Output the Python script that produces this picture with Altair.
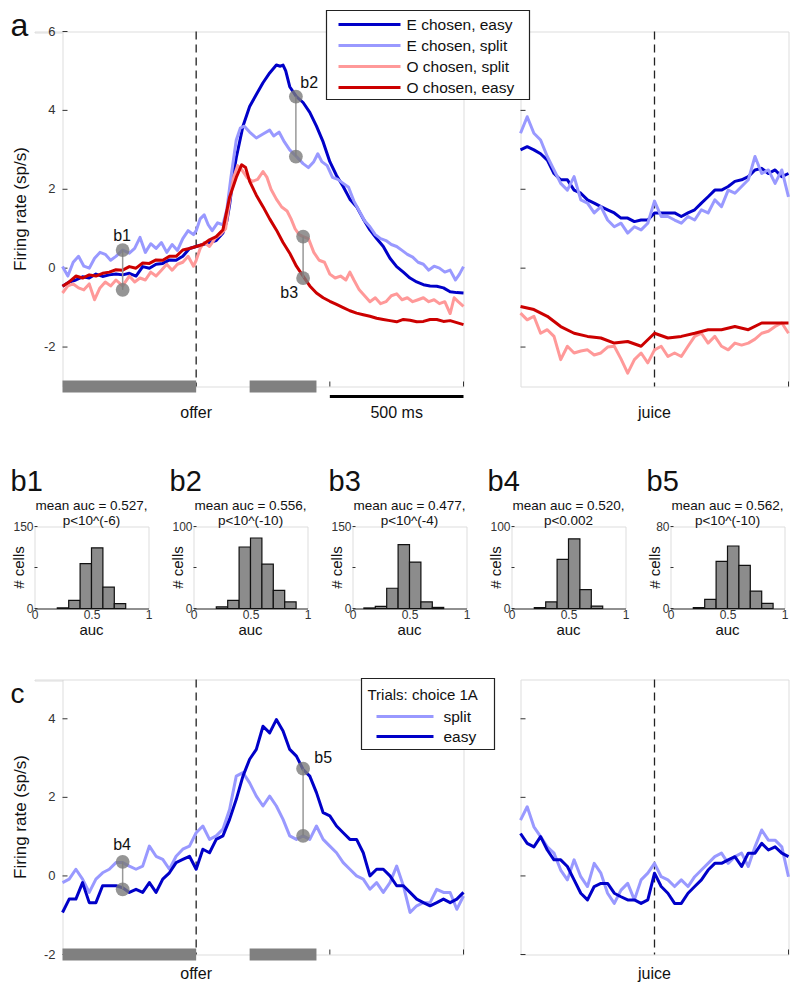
import altair as alt
import pandas as pd

FONT = "Liberation Sans"
AX = "#333333"
TXT = "#111111"
C_E_EASY = "#0000c8"
C_E_SPLIT = "#9999ff"
C_O_SPLIT = "#ff9999"
C_O_EASY = "#cc0000"
GRAY = "#808080"

# ---------------- Panel a, offer-aligned ----------------
A_L_E_EASY_T = [-500,-475,-450,-425,-400,-375,-350,-325,-300,-275,-250,-225,-200,-175,-150,-125,-100,-75,-50,-25,0,25,50,75,100,115,125,140,150,175,200,225,250,275,300,315,325,335,350,375,400,425,450,475,500,525,550,575,600,625,650,675,700,725,750,775,800,825,850,875,900,925,950,975,1000]
A_L_E_EASY_V = [-0.46,-0.35,-0.3,-0.22,-0.25,-0.15,-0.21,-0.17,-0.15,-0.17,-0.13,-0.2,0.04,0.0,0.1,0.12,0.21,0.2,0.3,0.5,0.55,0.6,0.65,0.7,0.89,1.2,1.6,2.4,2.8,3.6,4.1,4.4,4.7,4.95,5.15,5.12,5.15,5.0,4.6,4.35,4.2,3.95,3.6,3.2,2.7,2.35,2.07,1.75,1.56,1.25,0.97,0.75,0.55,0.25,0.04,-0.1,-0.25,-0.35,-0.42,-0.45,-0.46,-0.5,-0.6,-0.62,-0.63]

A_L_E_SPLIT_T = [-500,-480,-460,-440,-420,-400,-380,-360,-340,-320,-300,-275,-250,-230,-210,-190,-170,-150,-130,-110,-90,-70,-50,-30,-10,0,15,30,45,60,80,100,115,130,150,165,180,200,225,250,275,290,310,330,350,375,400,420,440,455,470,490,510,530,550,570,590,610,630,650,670,690,710,730,750,770,790,810,830,850,870,890,910,930,950,970,985,1000]
A_L_E_SPLIT_V = [0.04,-0.2,0.15,0.3,0.05,0.0,0.25,0.4,0.35,0.2,0.3,0.46,0.38,0.5,0.78,0.4,0.62,0.5,0.65,0.4,0.6,0.45,0.75,0.95,0.85,0.95,1.25,1.35,1.1,0.95,1.15,1.1,1.5,2.3,3.25,3.55,3.6,3.45,3.3,3.4,3.5,3.35,3.45,3.2,3.0,2.83,2.65,2.55,2.7,2.9,2.7,2.6,2.3,2.25,2.15,2.05,1.7,1.45,1.2,1.05,0.85,0.75,0.7,0.6,0.55,0.45,0.35,0.28,0.15,0.1,-0.05,0.05,0.0,-0.1,-0.05,-0.3,-0.15,0.04]

A_L_O_SPLIT_T = [-500,-480,-460,-440,-420,-400,-380,-360,-340,-320,-300,-275,-250,-230,-210,-190,-170,-150,-130,-110,-90,-70,-50,-30,-10,0,15,30,50,70,90,110,125,140,155,170,190,210,230,250,265,280,300,320,340,355,370,385,400,420,440,460,480,500,520,540,560,575,590,610,630,650,670,690,710,730,750,770,790,810,830,850,870,890,910,930,950,965,980,1000]
A_L_O_SPLIT_V = [-0.63,-0.45,-0.4,-0.5,-0.55,-0.4,-0.8,-0.5,-0.35,-0.45,-0.3,-0.45,-0.2,-0.35,-0.25,-0.3,-0.1,-0.2,-0.05,0.1,-0.05,0.1,0.15,0.3,0.05,0.2,0.5,0.65,0.55,0.75,0.85,1.0,1.7,2.3,2.6,2.5,2.3,2.2,2.25,2.45,2.3,2.0,1.75,1.55,1.45,1.25,1.0,0.85,0.8,0.75,0.4,0.2,0.15,-0.15,-0.25,-0.2,-0.3,-0.1,-0.3,-0.55,-0.7,-0.85,-0.75,-0.9,-0.85,-0.7,-0.65,-0.8,-0.75,-0.85,-0.8,-0.75,-0.85,-0.8,-0.9,-0.85,-1.15,-0.75,-0.85,-0.97]

A_L_O_EASY_T = [-500,-475,-450,-425,-400,-375,-350,-325,-300,-275,-250,-225,-200,-175,-150,-125,-100,-75,-50,-25,0,25,50,75,100,125,150,170,185,200,225,250,275,300,325,350,375,400,425,450,475,500,525,550,575,600,625,650,675,700,725,750,775,800,825,850,875,900,925,950,975,1000]
A_L_O_EASY_V = [-0.46,-0.35,-0.2,-0.25,-0.17,-0.2,-0.13,-0.1,-0.04,-0.05,0.04,0.0,0.13,0.12,0.21,0.2,0.3,0.3,0.46,0.5,0.55,0.6,0.72,0.8,0.97,1.8,2.3,2.62,2.55,2.2,1.85,1.56,1.25,0.97,0.65,0.38,0.05,-0.2,-0.45,-0.63,-0.75,-0.84,-0.92,-1.0,-1.08,-1.14,-1.18,-1.22,-1.27,-1.3,-1.33,-1.36,-1.3,-1.32,-1.36,-1.35,-1.3,-1.3,-1.35,-1.33,-1.38,-1.43]

# ---------------- Panel a, juice-aligned ----------------
R_T25 = [-500,-475,-450,-425,-400,-375,-350,-325,-300,-275,-250,-225,-200,-175,-150,-125,-100,-75,-50,-25,0,25,50,75,100,125,150,175,200,225,250,275,300,325,350,375,400,425,450,475,500]
R_T50 = [-500,-450,-400,-350,-300,-250,-200,-150,-100,-50,0,50,100,150,200,250,300,350,400,450,500]
A_R_E_EASY_V = [3.0,3.08,3.0,2.9,2.74,2.4,2.24,2.24,1.98,1.9,1.73,1.65,1.56,1.48,1.4,1.27,1.27,1.18,1.22,1.22,1.4,1.4,1.4,1.4,1.31,1.4,1.48,1.65,1.81,1.98,1.98,2.07,2.2,2.24,2.32,2.49,2.53,2.4,2.49,2.32,2.4]
A_R_E_SPLIT_V = [3.42,3.84,3.42,3.25,2.83,2.49,2.15,1.98,2.32,1.73,1.65,1.4,1.56,1.22,1.05,1.14,0.89,1.05,0.97,1.14,1.7,1.31,1.31,1.22,1.14,1.31,1.22,1.48,1.4,1.73,1.56,1.98,1.9,2.07,2.24,2.83,2.4,2.49,2.15,2.49,1.81]
A_R_O_SPLIT_V = [-1.14,-1.31,-1.22,-1.65,-1.56,-1.73,-2.32,-1.98,-2.15,-2.1,-2.07,-2.2,-2.15,-2.0,-1.98,-2.3,-2.66,-2.32,-2.15,-2.4,-2.07,-1.98,-2.24,-2.15,-2.24,-1.98,-1.73,-1.65,-1.9,-1.73,-1.98,-2.07,-1.9,-1.95,-1.9,-1.8,-1.65,-1.6,-1.48,-1.39,-1.65]
A_R_O_EASY_V = [-0.97,-1.05,-1.22,-1.48,-1.65,-1.73,-1.77,-1.9,-1.86,-1.98,-1.65,-1.77,-1.73,-1.65,-1.56,-1.56,-1.48,-1.56,-1.39,-1.39,-1.39]

# ---------------- Panel c ----------------
C_L_T = list(range(-500, 1001, 25))
C_L_SPLIT_V = [-0.17,-0.08,0.17,-0.08,-0.42,-0.08,0.08,0.17,0.34,0.34,0.25,0.17,0.25,0.76,0.5,0.42,0.17,0.5,0.68,0.76,1.1,1.27,0.93,1.02,1.19,1.69,2.54,2.63,2.37,2.03,1.78,2.03,1.78,1.44,1.02,0.93,1.02,0.93,1.27,0.93,0.76,0.59,0.34,0.17,0.0,-0.08,-0.34,-0.17,-0.42,-0.17,0.25,-0.25,-0.93,-0.76,-0.68,-0.68,-0.34,-0.42,-0.42,-0.85,-0.51]
C_L_EASY_V = [-0.93,-0.59,-0.59,-0.17,-0.68,-0.68,-0.25,-0.25,-0.25,-0.3,-0.42,-0.34,-0.42,-0.17,-0.42,-0.08,0.08,0.34,0.42,0.5,0.17,0.68,0.59,0.93,1.02,1.44,1.95,2.54,2.97,3.22,3.81,3.64,3.98,3.69,3.22,3.05,2.71,2.54,2.12,1.61,1.53,1.27,1.1,0.93,0.93,0.59,0.0,0.17,0.17,0.0,-0.25,-0.25,-0.42,-0.59,-0.68,-0.76,-0.68,-0.59,-0.68,-0.59,-0.42]
C_R_SPLIT_V = [1.42,1.76,1.25,1.0,0.74,0.58,0.15,-0.1,0.41,-0.02,-0.27,0.32,0.07,-0.44,-0.7,-0.36,-0.19,-0.61,-0.1,0.07,0.32,-0.02,-0.1,-0.27,-0.1,-0.27,-0.02,0.15,0.32,0.49,0.58,0.32,0.49,0.58,0.24,0.74,1.17,0.91,0.91,0.74,-0.02]
C_R_EASY_V = [1.08,0.83,0.74,1.0,0.66,0.41,0.41,0.24,-0.1,-0.44,-0.61,-0.27,-0.19,-0.19,-0.44,-0.53,-0.61,-0.61,-0.7,-0.61,0.07,-0.27,-0.44,-0.7,-0.7,-0.44,-0.27,-0.1,0.15,0.32,0.32,0.41,0.49,0.24,0.58,0.58,0.83,0.66,0.74,0.58,0.49]

# epochs (gray bars) and markers
EPOCH_START = [-500, 200]
EPOCH_END = [0, 450]
SCALEBAR = [500, 1000]

A_MARK_T = [-275, 373, 400]
A_MARK_HI = [0.46, 4.35, 0.8]
A_MARK_LO = [-0.55, 2.83, -0.25]
A_MARK_LAB = ["b1", "b2", "b3"]
A_MARK_LAB_T = [-277, 423, 348]
A_MARK_LAB_V = [0.81, 4.7, -0.63]
C_MARK_T = [-275, 400]
C_MARK_HI = [0.36, 2.73]
C_MARK_LO = [-0.34, 1.02]
C_MARK_LAB = ["b4", "b5"]
C_MARK_LAB_T = [-277, 475]
C_MARK_LAB_V = [0.79, 2.99]

A_LEGEND = ["E chosen, easy", "E chosen, split", "O chosen, split", "O chosen, easy"]
A_COLORS = [C_E_EASY, C_E_SPLIT, C_O_SPLIT, C_O_EASY]
C_LEGEND_TITLE = "Trials: choice 1A"
C_LEGEND = ["split", "easy"]
C_COLORS = [C_E_SPLIT, C_E_EASY]

# ---------------- Histograms (panel b) ----------------
HIST_NAMES = ["b1", "b2", "b3", "b4", "b5"]
HIST_TITLE1 = ["mean auc = 0.527,", "mean auc = 0.556,", "mean auc = 0.477,", "mean auc = 0.520,", "mean auc = 0.562,"]
HIST_TITLE2 = ["p<10^(-6)", "p<10^(-10)", "p<10^(-4)", "p<0.002", "p<10^(-10)"]
HIST_YMAX = [150, 100, 150, 100, 80]
HIST_START = [0.2, 0.2, 0.1, 0.2, 0.2]
HIST_COUNTS = [
    [1, 15, 82, 111, 39, 9],
    [2, 10, 75, 86, 54, 22, 8],
    [1, 4, 37, 117, 85, 12, 2],
    [1, 8, 60, 85, 23, 3],
    [1, 9, 46, 61, 42, 17, 5],
]
BIN_W = 0.1

W_L, W_R = 401, 268
H_A, H_B, H_C = 355, 82, 275
W_B = 114


def one():
    return pd.DataFrame({"k": [0]})


def sc(dom):
    return alt.Scale(domain=dom, nice=False, zero=False)


def txt(s, x, y, size, align="left", baseline="middle", angle=0, color=TXT):
    kw = dict(text=s, fontSize=size, font=FONT, align=align, baseline=baseline, color=color)
    if angle:
        kw["angle"] = angle
    return alt.Chart(one()).mark_text(**kw).encode(x=alt.value(x), y=alt.value(y))


def anchor(x, y1, y2):
    # invisible rule that fixes the extent of a row for the layout
    return alt.Chart(one()).mark_rule(opacity=0, strokeWidth=1, color="white").encode(
        x=alt.value(x), y=alt.value(y1), y2=alt.value(y2))


def blank(w, h=1):
    return alt.Chart(one()).mark_point(opacity=0, size=1).encode(
        x=alt.value(0), y=alt.value(0)).properties(width=w, height=h)


def ylabel_layer(vals, ys, dx, size):
    df = pd.DataFrame({"v": vals, "lab": [("%g" % v) for v in vals]})
    return alt.Chart(df).mark_text(fontSize=size, font=FONT, color=AX, align="right", baseline="middle").encode(
        y=alt.Y("v:Q", scale=ys, axis=None), x=alt.value(dx), text="lab:N")


def frame(xs, ys, yticks, xticks, h, ylabels):
    ylay = alt.Chart(pd.DataFrame({"v": yticks})).mark_rule(color=AX, strokeWidth=1).encode(
        y=alt.Y("v:Q", scale=ys, axis=alt.Axis(
            values=yticks, ticks=False, labels=False, domain=True, domainColor=AX,
            domainWidth=1.2, title=None, grid=False)),
        x=alt.value(0), x2=alt.value(5))
    xlay = alt.Chart(pd.DataFrame({"t": xticks})).mark_rule(color=AX, strokeWidth=1).encode(
        x=alt.X("t:Q", scale=xs, axis=alt.Axis(
            ticks=False, labels=False, domain=True, domainColor=AX, domainWidth=1.2,
            title=None, grid=False)),
        y=alt.value(h), y2=alt.value(h - 5))
    out = [ylay, xlay]
    if ylabels:
        out.append(ylabel_layer(yticks, ys, -7, 13))
    return out


def line(ts, vs, color, xs, ys):
    return alt.Chart(pd.DataFrame({"t": ts, "v": vs})).mark_line(
        color=color, strokeWidth=3, strokeJoin="round").encode(
        x=alt.X("t:Q", scale=xs, axis=None), y=alt.Y("v:Q", scale=ys, axis=None))


def dashed(xs, h):
    return alt.Chart(pd.DataFrame({"t": [0]})).mark_rule(
        color="#222222", strokeWidth=1.3, strokeDash=[8, 5]).encode(
        x=alt.X("t:Q", scale=xs, axis=None), y=alt.value(0), y2=alt.value(h))


def epochs(xs, h):
    return alt.Chart(pd.DataFrame({"s": EPOCH_START, "e": EPOCH_END})).mark_rect(color=GRAY).encode(
        x=alt.X("s:Q", scale=xs, axis=None), x2="e:Q", y=alt.value(h - 6), y2=alt.value(h + 6))


def markers(ts, hi, lo, labs, lt, lv, xs, ys):
    df = pd.DataFrame({"t": ts, "hi": hi, "lo": lo})
    seg = alt.Chart(df).mark_rule(color="#999999", strokeWidth=1.5).encode(
        x=alt.X("t:Q", scale=xs, axis=None), y=alt.Y("hi:Q", scale=ys, axis=None), y2="lo:Q")
    long = pd.DataFrame({"t": ts + ts, "v": hi + lo})
    dots = alt.Chart(long).mark_circle(size=190, color="#7a7a7a", opacity=0.8).encode(
        x=alt.X("t:Q", scale=xs, axis=None), y=alt.Y("v:Q", scale=ys, axis=None))
    labdf = pd.DataFrame({"t": lt, "v": lv, "lab": labs})
    lab = alt.Chart(labdf).mark_text(fontSize=16, font=FONT, color=TXT, align="center", baseline="middle").encode(
        x=alt.X("t:Q", scale=xs, axis=None), y=alt.Y("v:Q", scale=ys, axis=None), text="lab:N")
    return [seg, dots, lab]


def event_label(xs, label, h, dy):
    return alt.Chart(pd.DataFrame({"t": [0], "lab": [label]})).mark_text(
        fontSize=16, font=FONT, color=TXT, align="center", baseline="middle").encode(
        x=alt.X("t:Q", scale=xs, axis=None), y=alt.value(h + dy), text="lab:N")


# ---------------- Panel a left ----------------
xsL = sc([-500, 1000])
ysA = sc([-3, 6])
a_left_layers = frame(xsL, ysA, [-2, 0, 2, 4, 6], [500, 1000], H_A, True)
a_left_layers += [dashed(xsL, H_A), epochs(xsL, H_A)]
a_left_layers += [
    line(A_L_E_EASY_T, A_L_E_EASY_V, C_E_EASY, xsL, ysA),
    line(A_L_E_SPLIT_T, A_L_E_SPLIT_V, C_E_SPLIT, xsL, ysA),
    line(A_L_O_SPLIT_T, A_L_O_SPLIT_V, C_O_SPLIT, xsL, ysA),
    line(A_L_O_EASY_T, A_L_O_EASY_V, C_O_EASY, xsL, ysA),
]
a_left_layers += markers(A_MARK_T, A_MARK_HI, A_MARK_LO, A_MARK_LAB, A_MARK_LAB_T, A_MARK_LAB_V, xsL, ysA)
a_left_layers += [
    alt.Chart(pd.DataFrame({"s": [SCALEBAR[0]], "e": [SCALEBAR[1]]})).mark_rule(color="#000000", strokeWidth=3).encode(
        x=alt.X("s:Q", scale=xsL, axis=None), x2="e:Q", y=alt.value(H_A + 10)),
    alt.Chart(pd.DataFrame({"t": [(SCALEBAR[0] + SCALEBAR[1]) / 2], "lab": ["500 ms"]})).mark_text(
        fontSize=16, font=FONT, color=TXT, align="center", baseline="middle").encode(
        x=alt.X("t:Q", scale=xsL, axis=None), y=alt.value(H_A + 26), text="lab:N"),
    event_label(xsL, "offer", H_A, 26),
    txt("a", -52, 4, 32, baseline="alphabetic"),
    txt("Firing rate (sp/s)", -42, H_A / 2, 17, align="center", angle=270),
    anchor(-52, -22, H_A + 45),
]
a_left = alt.layer(*a_left_layers).properties(width=W_L, height=H_A)

# ---------------- Panel a right ----------------
xsR = sc([-500, 500])
a_right_layers = frame(xsR, ysA, [-2, 0, 2, 4, 6], [500], H_A, False)
a_right_layers += [dashed(xsR, H_A)]
a_right_layers += [
    line(R_T25, A_R_E_EASY_V, C_E_EASY, xsR, ysA),
    line(R_T25, A_R_E_SPLIT_V, C_E_SPLIT, xsR, ysA),
    line(R_T25, A_R_O_SPLIT_V, C_O_SPLIT, xsR, ysA),
    line(R_T50, A_R_O_EASY_V, C_O_EASY, xsR, ysA),
    event_label(xsR, "juice", H_A, 26),
]
a_right_layers.append(alt.Chart(one()).mark_rect(fill="white", stroke="#222222", strokeWidth=1.2).encode(
    x=alt.value(-194), x2=alt.value(9), y=alt.value(-21), y2=alt.value(68)))
for i, (lab, col) in enumerate(zip(A_LEGEND, A_COLORS)):
    yy = -7 + 21 * i
    a_right_layers.append(alt.Chart(one()).mark_rule(color=col, strokeWidth=3).encode(
        x=alt.value(-182), x2=alt.value(-120), y=alt.value(yy)))
    a_right_layers.append(txt(lab, -114, yy, 15.5))
a_right = alt.layer(*a_right_layers).properties(width=W_R, height=H_A)

# ---------------- Histograms ----------------
hists = []
for k in range(5):
    counts = HIST_COUNTS[k]
    lo = [round(HIST_START[k] + BIN_W * i, 2) for i in range(len(counts))]
    hi = [round(v + BIN_W, 2) for v in lo]
    df = pd.DataFrame({"lo": lo, "hi": hi, "n": counts, "z": [0] * len(counts)})
    xs = sc([0, 1])
    ys = sc([0, HIST_YMAX[k]])
    bars = alt.Chart(df).mark_rect(fill="#8c8c8c", stroke="#111111", strokeWidth=1.2).encode(
        x=alt.X("lo:Q", scale=xs, axis=alt.Axis(
            values=[0, 0.5, 1], ticks=False, domain=True, domainColor=AX, domainWidth=1.2,
            labelFont=FONT, labelFontSize=12, labelColor=AX, labelPadding=1,
            labelExpr="'' + datum.value", labelFlush=False, labelOverlap=False,
            title=None, grid=False)),
        x2="hi:Q",
        y=alt.Y("n:Q", scale=ys, axis=None), y2="z:Q")
    ym = HIST_YMAX[k]
    ytick = alt.Chart(pd.DataFrame({"v": [0, ym / 2, ym]})).mark_rule(color=AX, strokeWidth=1).encode(
        y=alt.Y("v:Q", scale=ys, axis=alt.Axis(
            ticks=False, labels=False, domain=True, domainColor=AX, domainWidth=1.2,
            title=None, grid=False)),
        x=alt.value(0), x2=alt.value(3))
    layers = [ytick, bars, ylabel_layer([0, ym], ys, -1, 12),
              txt(HIST_NAMES[k], -24, -36, 29, baseline="alphabetic"),
              txt(HIST_TITLE1[k], W_B / 2, -20.5, 13.5, align="center"),
              txt(HIST_TITLE2[k], W_B / 2, -6, 13.5, align="center"),
              txt("# cells", -16, H_B / 2, 15, align="center", angle=270),
              txt("auc", W_B / 2, H_B + 21, 15, align="center")]
    if k == 0:
        layers.append(anchor(-24, -70, H_B + 40))
    hists.append(alt.layer(*layers).properties(width=W_B, height=H_B))

# ---------------- Panel c left ----------------
ysC = sc([-2, 5])
c_left_layers = frame(xsL, ysC, [-2, 0, 2, 4], [500, 1000], H_C, True)
c_left_layers += [dashed(xsL, H_C), epochs(xsL, H_C)]
c_left_layers += [
    line(C_L_T, C_L_SPLIT_V, C_E_SPLIT, xsL, ysC),
    line(C_L_T, C_L_EASY_V, C_E_EASY, xsL, ysC),
]
c_left_layers += markers(C_MARK_T, C_MARK_HI, C_MARK_LO, C_MARK_LAB, C_MARK_LAB_T, C_MARK_LAB_V, xsL, ysC)
c_left_layers += [
    event_label(xsL, "offer", H_C, 19),
    txt("c", -52, 23, 28, baseline="alphabetic"),
    txt("Firing rate (sp/s)", -42, H_C / 2, 17, align="center", angle=270),
    anchor(-52, -20, H_C + 20),
]
c_left_layers.append(alt.Chart(one()).mark_rect(fill="white", stroke="#222222", strokeWidth=1.2).encode(
    x=alt.value(299), x2=alt.value(432), y=alt.value(-1), y2=alt.value(70)))
c_left_layers.append(txt(C_LEGEND_TITLE, 305, 15, 15))
for i, (lab, col) in enumerate(zip(C_LEGEND, C_COLORS)):
    yy = 37 + 20 * i
    c_left_layers.append(alt.Chart(one()).mark_rule(color=col, strokeWidth=3).encode(
        x=alt.value(314), x2=alt.value(371), y=alt.value(yy)))
    c_left_layers.append(txt(lab, 381, yy, 15.5))
c_left = alt.layer(*c_left_layers).properties(width=W_L, height=H_C)

# ---------------- Panel c right ----------------
c_right_layers = frame(xsR, ysC, [-2, 0, 2, 4], [500], H_C, False)
c_right_layers += [dashed(xsR, H_C)]
c_right_layers += [
    line(R_T25, C_R_SPLIT_V, C_E_SPLIT, xsR, ysC),
    line(R_T25, C_R_EASY_V, C_E_EASY, xsR, ysC),
    event_label(xsR, "juice", H_C, 19),
]
c_right = alt.layer(*c_right_layers).properties(width=W_R, height=H_C)

row_a = alt.hconcat(blank(28), alt.hconcat(a_left, a_right, spacing=57, bounds="flush"),
                    spacing=0, bounds="flush")
row_b = alt.hconcat(*hists, spacing=45, bounds="flush")
row_c = alt.hconcat(blank(28), alt.hconcat(c_left, c_right, spacing=57, bounds="flush"),
                    spacing=0, bounds="flush")

chart = alt.vconcat(
    row_a,
    alt.vconcat(row_b, row_c, spacing=9),
    spacing=23,
).properties(
    padding={"left": 1.5, "top": 0.5, "right": 0, "bottom": 0},
    background="white",
).configure_view(stroke=None).configure(font=FONT)

chart.save("out.html", embed_options={"renderer": "svg", "actions": False})
